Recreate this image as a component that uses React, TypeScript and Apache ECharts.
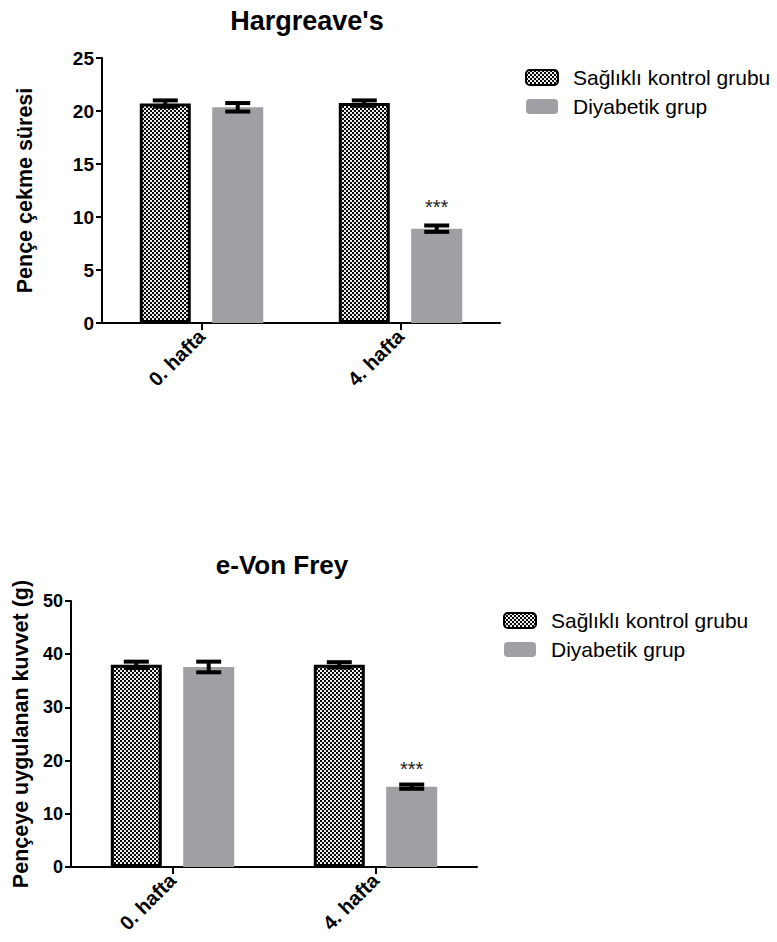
import React, { useEffect, useRef } from "react";
import * as echarts from "echarts";

// ---------- data ----------
const categories = ["0. hafta", "4. hafta"];
const seriesNames = ["Sağlıklı kontrol grubu", "Diyabetik grup"];

const hargTitle = "Hargreave's";
const hargYName = "Pençe çekme süresi";
const hargControl = [20.7, 20.75];
const hargControlErr = [0.3, 0.25];
const hargDiab = [20.35, 8.9];
const hargDiabErr = [0.4, 0.3];
const hargYMax = 25;
const hargYStep = 5;

const vonTitle = "e-Von Frey";
const vonYName = "Pençeye uygulanan kuvvet (g)";
const vonControl = [38.0, 38.0];
const vonControlErr = [0.6, 0.5];
const vonDiab = [37.6, 15.1];
const vonDiabErr = [1.0, 0.4];
const vonYMax = 50;
const vonYStep = 10;

const significance = ["", "***"];

const FONT = "'Liberation Sans', Arial, Helvetica, sans-serif";
const GRAY = "#a0a0a4";

function makeChecker(): HTMLCanvasElement {
  const c = document.createElement("canvas");
  c.width = 4;
  c.height = 4;
  const ctx = c.getContext("2d")!;
  ctx.fillStyle = "#eeeeee";
  ctx.fillRect(0, 0, 4, 4);
  ctx.fillStyle = "#0a0a0a";
  ctx.fillRect(0, 0, 2, 2);
  ctx.fillRect(2, 2, 2, 2);
  return c;
}

function errorSeries(
  values: number[],
  errs: number[],
  offset: number,
  axisIndex: number
) {
  return {
    type: "custom",
    xAxisIndex: axisIndex,
    yAxisIndex: axisIndex,
    silent: true,
    z: 10,
    data: values.map((v, i) => [i, v - errs[i], v + errs[i]]),
    encode: { x: 0, y: [1, 2] },
    renderItem: (params: any, api: any) => {
      const i = api.value(0);
      const lo = api.coord([i, api.value(1)]);
      const hi = api.coord([i, api.value(2)]);
      const x = lo[0] + offset;
      const half = 12.5;
      const style = { stroke: "#000", lineWidth: 4, fill: "none" };
      return {
        type: "group",
        children: [
          { type: "line", shape: { x1: x, y1: hi[1], x2: x, y2: lo[1] }, style },
          { type: "line", shape: { x1: x - half, y1: hi[1], x2: x + half, y2: hi[1] }, style },
          { type: "line", shape: { x1: x - half, y1: lo[1], x2: x + half, y2: lo[1] }, style },
        ],
      };
    },
  };
}

export default function App() {
  const ref = useRef<HTMLDivElement>(null);

  useEffect(() => {
    if (!ref.current) return;
    const chart = echarts.init(ref.current, undefined, { renderer: "svg" });
    const checker = makeChecker();
    const pattern: any = { image: checker, repeat: "repeat" };

    const barWidth = 51;
    const barGap = "42%";
    const off = (barWidth + barWidth * 0.42) / 2;

    const axisLineStyle = { color: "#000", width: 2 };

    const makeY = (
      gridIndex: number,
      max: number,
      step: number,
      name: string,
      nameGap: number,
      fs: number,
      nameFs: number
    ) => ({
      type: "value",
      gridIndex,
      min: 0,
      max,
      interval: step,
      name,
      nameLocation: "middle",
      nameGap,
      nameTextStyle: { fontFamily: FONT, fontWeight: "bold", fontSize: nameFs, color: "#000" },
      axisLine: { show: true, lineStyle: axisLineStyle },
      axisTick: { show: true, length: 6, lineStyle: axisLineStyle },
      axisLabel: { fontFamily: FONT, fontWeight: "bold", fontSize: fs, color: "#000", margin: 8 },
      splitLine: { show: false },
    });

    const makeX = (gridIndex: number, fs: number) => ({
      type: "category",
      gridIndex,
      data: categories,
      axisLine: { show: true, lineStyle: axisLineStyle },
      axisTick: { show: true, alignWithLabel: true, length: 7, lineStyle: axisLineStyle },
      axisLabel: {
        rotate: 45,
        fontFamily: FONT,
        fontWeight: "bold",
        fontSize: fs,
        color: "#000",
        margin: 10,
      },
      splitLine: { show: false },
    });

    const diabData = (vals: number[], dist: number) =>
      vals.map((v, i) =>
        significance[i]
          ? {
              value: v,
              label: {
                show: true,
                position: "top",
                distance: dist,
                formatter: significance[i],
                fontFamily: FONT,
                fontSize: 20,
                color: "#222",
              },
            }
          : v
      );

    const controlStyle = { color: pattern, borderColor: "#000", borderWidth: 3 };
    const diabStyle = { color: GRAY };

    const legendCommon = {
      orient: "vertical",
      itemWidth: 32,
      itemHeight: 15,
      itemGap: 8,
      padding: 0,
      icon: "roundRect",
      data: seriesNames,
      textStyle: { fontFamily: FONT, fontSize: 21, color: "#000", padding: [0, 0, 0, 10] },
      selectedMode: false,
    };

    chart.setOption({
      animation: false,
      backgroundColor: "#fff",
      title: [
        {
          text: hargTitle,
          left: 302,
          top: 2,
          textAlign: "center",
          textStyle: { fontFamily: FONT, fontWeight: "bold", fontSize: 27, color: "#000" },
        },
        {
          text: vonTitle,
          left: 277,
          top: 547,
          textAlign: "center",
          textStyle: { fontFamily: FONT, fontWeight: "bold", fontSize: 26, color: "#000" },
        },
      ],
      legend: [
        { ...legendCommon, left: 525, top: 67 },
        { ...legendCommon, left: 503, top: 610 },
      ],
      grid: [
        { left: 102, top: 58, width: 398, height: 265 },
        { left: 71, top: 601, width: 406, height: 266 },
      ],
      xAxis: [makeX(0, 20), makeX(1, 20)],
      yAxis: [
        makeY(0, hargYMax, hargYStep, hargYName, 66, 19, 21.5),
        makeY(1, vonYMax, vonYStep, vonYName, 32, 18, 21.5),
      ],
      series: [
        {
          type: "bar",
          name: seriesNames[0],
          xAxisIndex: 0,
          yAxisIndex: 0,
          barWidth,
          barGap,
          itemStyle: controlStyle,
          data: hargControl,
        },
        {
          type: "bar",
          name: seriesNames[1],
          xAxisIndex: 0,
          yAxisIndex: 0,
          barWidth,
          barGap,
          itemStyle: diabStyle,
          data: diabData(hargDiab, 12),
        },
        {
          type: "bar",
          name: seriesNames[0],
          xAxisIndex: 1,
          yAxisIndex: 1,
          barWidth,
          barGap,
          itemStyle: controlStyle,
          data: vonControl,
        },
        {
          type: "bar",
          name: seriesNames[1],
          xAxisIndex: 1,
          yAxisIndex: 1,
          barWidth,
          barGap,
          itemStyle: diabStyle,
          data: diabData(vonDiab, 8),
        },
        errorSeries(hargControl, hargControlErr, -off, 0),
        errorSeries(hargDiab, hargDiabErr, off, 0),
        errorSeries(vonControl, vonControlErr, -off, 1),
        errorSeries(vonDiab, vonDiabErr, off, 1),
      ],
    } as any);

    return () => chart.dispose();
  }, []);

  return (
    <div
      ref={ref}
      style={{ position: "fixed", left: 0, top: 0, width: 777, height: 942, background: "#fff" }}
    />
  );
}
